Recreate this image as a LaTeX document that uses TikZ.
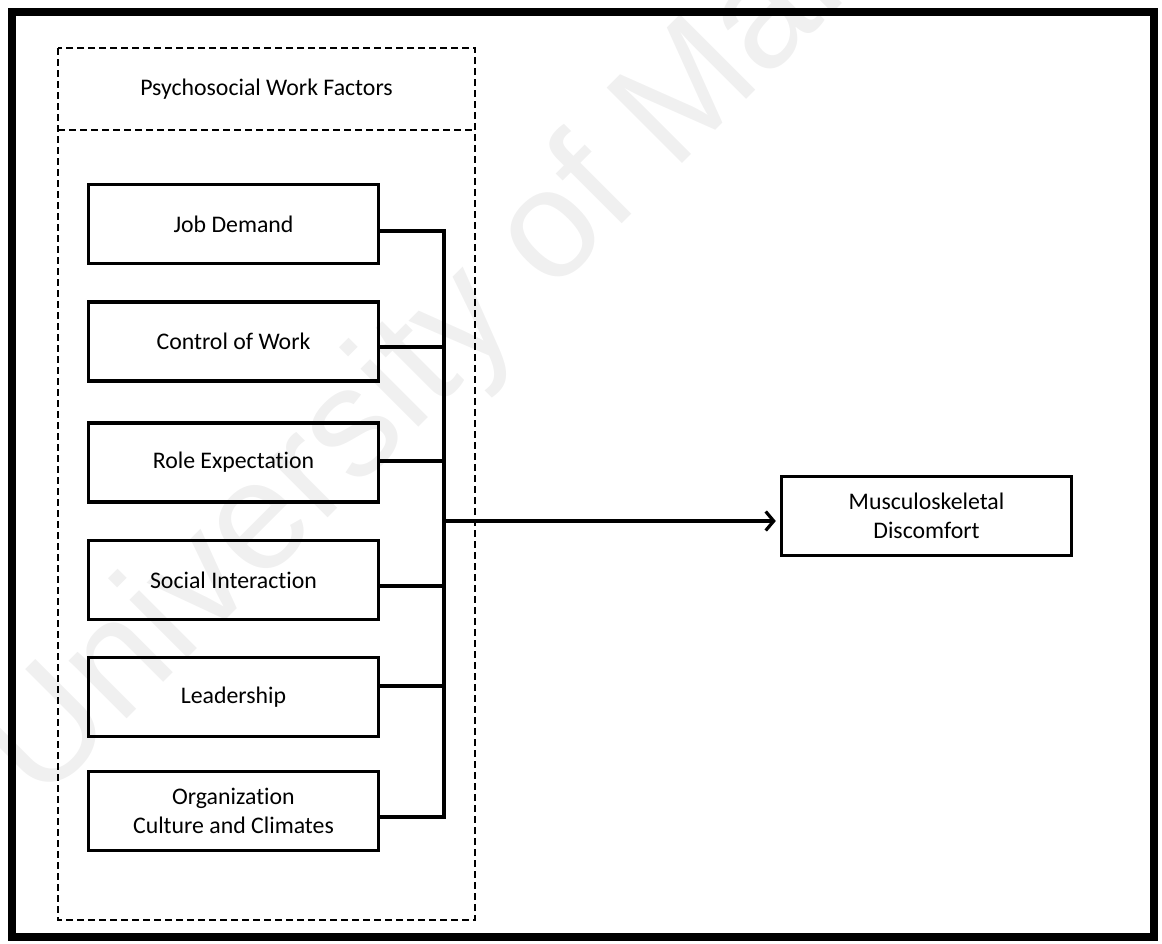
\documentclass[tikz,border=0pt]{standalone}
\usepackage{fontspec}
\setmainfont{Carlito}[Ligatures=NoCommon]
\newfontfamily\markfont{Liberation Sans}
\usetikzlibrary{arrows.meta}
\begin{document}
\begin{tikzpicture}[x=1pt,y=-1pt,
  labelfont/.style={font=\fontsize{23.8}{28.5}\selectfont},
  factor/.style={draw, line width=3.4pt, minimum width=290pt, minimum height=79pt,
    inner sep=0pt, align=center, labelfont},
  link/.style={line width=3.2pt},
  grouping/.style={draw, line width=2.2pt, dash pattern=on 7pt off 4pt},
  frameline/.style={line width=8.5pt},
  watermark/.style={font=\markfont\fontsize{155}{155}\selectfont, text=black!6,
    rotate=45, anchor=base west, inner sep=0pt}]
  \useasboundingbox (0,0) rectangle (1162,943);

  % faint watermark behind the figure
  \begin{scope}
    \clip (0,0) rectangle (1162,943);
    \node[watermark] (mark) at (40,806) {University of Malaya};
  \end{scope}

  % outer frame
  \draw[frameline] (12,12) rectangle (1154,937);

  % dashed grouping panel with its heading
  \draw[grouping] (58,48) rectangle (475,920);
  \draw[grouping] (58,130) -- (475,130);
  \node[labelfont] (title) at (266.5,89) {Psychosocial Work Factors};

  % factor boxes
  \node[factor] (jd)   at (233.5,224)   {Job Demand};
  \node[factor] (cow)  at (233.5,341.5) {Control of Work};
  \node[factor] (role) at (233.5,462.5) {Role Expectation};
  \node[factor] (soc)  at (233.5,580)   {Social Interaction};
  \node[factor] (lead) at (233.5,697)   {Leadership};
  \node[factor] (org)  at (233.5,811)   {Organization\\Culture and Climates};

  % outcome box
  \node[factor] (msd) at (926.5,516) {Musculoskeletal\\Discomfort};

  % collecting bus
  \coordinate (b1) at (444,231);
  \coordinate (b2) at (444,347);
  \coordinate (b3) at (444,461);
  \coordinate (b4) at (444,586);
  \coordinate (b5) at (444,686);
  \coordinate (b6) at (444,817);
  \coordinate (hub) at (444,521);

  \draw[link] (jd.east |- b1) -- (b1) -- (b6) -- (org.east |- b6);
  \draw[link] (cow.east |- b2) -- (b2);
  \draw[link] (role.east |- b3) -- (b3);
  \draw[link] (soc.east |- b4) -- (b4);
  \draw[link] (lead.east |- b5) -- (b5);

  % arrow to the outcome
  \draw[link, -{Straight Barb[length=8pt,width=19pt]}, shorten >=4pt] (hub) -- (hub -| msd.west);
\end{tikzpicture}
\end{document}
